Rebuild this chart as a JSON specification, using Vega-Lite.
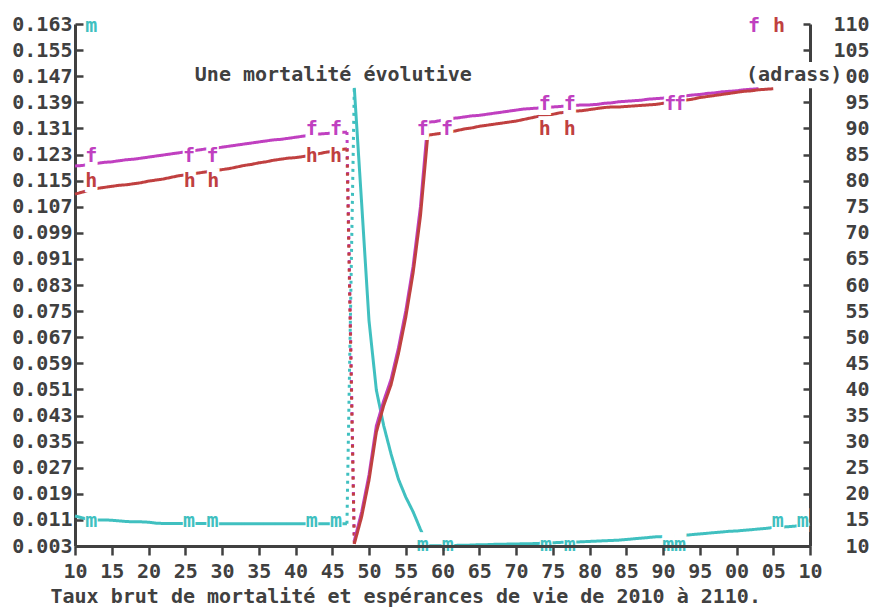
{
  "$schema": "https://vega.github.io/schema/vega-lite/v6.json",
  "width": 735,
  "height": 522,
  "autosize": {"type": "none"},
  "padding": {"left": 75, "top": 24, "right": 65, "bottom": 64},
  "background": "white",
  "config": {
    "view": {"stroke": null},
    "axis": {
      "grid": false,
      "domainColor": "#404040",
      "domainWidth": 3,
      "tickColor": "#404040",
      "tickWidth": 2.5,
      "labelColor": "#404040",
      "labelFont": "DejaVu Sans Mono",
      "labelFontSize": 20,
      "labelFontWeight": "bold",
      "labelOverlap": false,
      "labelFlush": false,
      "titleColor": "#404040",
      "titleFont": "DejaVu Sans Mono",
      "titleFontSize": 20,
      "titleFontWeight": "bold"
    },
    "text": {"font": "DejaVu Sans Mono", "fontSize": 20, "fontWeight": "bold"}
  },
  "datasets": {
    "serie": [
      {"annee": 2010, "periode": "avant", "m": 0.0122, "f": 82.8, "h": 77.4},
      {"annee": 2011, "periode": "avant", "m": 0.0116, "f": 82.9, "h": 77.8},
      {"annee": 2012, "periode": "avant", "m": 0.0111, "f": 83.1, "h": 78.2},
      {"annee": 2013, "periode": "avant", "m": 0.0110, "f": 83.3, "h": 78.5},
      {"annee": 2014, "periode": "avant", "m": 0.0110, "f": 83.5, "h": 78.7},
      {"annee": 2015, "periode": "avant", "m": 0.0109, "f": 83.6, "h": 78.9},
      {"annee": 2016, "periode": "avant", "m": 0.0107, "f": 83.8, "h": 79.1},
      {"annee": 2017, "periode": "avant", "m": 0.0105, "f": 84.0, "h": 79.2},
      {"annee": 2018, "periode": "avant", "m": 0.0104, "f": 84.1, "h": 79.4},
      {"annee": 2019, "periode": "avant", "m": 0.0104, "f": 84.3, "h": 79.6},
      {"annee": 2020, "periode": "avant", "m": 0.0103, "f": 84.5, "h": 79.9},
      {"annee": 2021, "periode": "avant", "m": 0.0100, "f": 84.7, "h": 80.1},
      {"annee": 2022, "periode": "avant", "m": 0.0099, "f": 84.9, "h": 80.3},
      {"annee": 2023, "periode": "avant", "m": 0.0099, "f": 85.1, "h": 80.6},
      {"annee": 2024, "periode": "avant", "m": 0.0099, "f": 85.3, "h": 80.9},
      {"annee": 2025, "periode": "avant", "m": 0.0099, "f": 85.5, "h": 81.1},
      {"annee": 2026, "periode": "avant", "m": 0.0099, "f": 85.7, "h": 81.3},
      {"annee": 2027, "periode": "avant", "m": 0.0099, "f": 85.9, "h": 81.5},
      {"annee": 2028, "periode": "avant", "m": 0.0099, "f": 86.1, "h": 81.7},
      {"annee": 2029, "periode": "avant", "m": 0.0099, "f": 86.2, "h": 81.9},
      {"annee": 2030, "periode": "avant", "m": 0.0098, "f": 86.4, "h": 82.1},
      {"annee": 2031, "periode": "avant", "m": 0.0098, "f": 86.6, "h": 82.3},
      {"annee": 2032, "periode": "avant", "m": 0.0098, "f": 86.8, "h": 82.6},
      {"annee": 2033, "periode": "avant", "m": 0.0098, "f": 87.0, "h": 82.9},
      {"annee": 2034, "periode": "avant", "m": 0.0098, "f": 87.2, "h": 83.1},
      {"annee": 2035, "periode": "avant", "m": 0.0098, "f": 87.4, "h": 83.4},
      {"annee": 2036, "periode": "avant", "m": 0.0098, "f": 87.6, "h": 83.6},
      {"annee": 2037, "periode": "avant", "m": 0.0098, "f": 87.8, "h": 83.9},
      {"annee": 2038, "periode": "avant", "m": 0.0098, "f": 87.9, "h": 84.1},
      {"annee": 2039, "periode": "avant", "m": 0.0098, "f": 88.1, "h": 84.3},
      {"annee": 2040, "periode": "avant", "m": 0.0098, "f": 88.3, "h": 84.4},
      {"annee": 2041, "periode": "avant", "m": 0.0098, "f": 88.5, "h": 84.6},
      {"annee": 2042, "periode": "avant", "m": 0.0098, "f": 88.7, "h": 84.8},
      {"annee": 2043, "periode": "avant", "m": 0.0098, "f": 88.9, "h": 85.1},
      {"annee": 2044, "periode": "avant", "m": 0.0098, "f": 89.0, "h": 85.4},
      {"annee": 2045, "periode": "avant", "m": 0.0098, "f": 89.1, "h": 85.6},
      {"annee": 2046, "periode": "avant", "m": 0.0098, "f": 89.2, "h": 85.9},
      {"annee": 2047, "periode": "avant", "m": 0.0098, "f": 89.3, "h": 86.1},
      {"annee": 2047, "periode": "saut", "m": 0.0098, "f": 89.3, "h": 86.1},
      {"annee": 2048, "periode": "saut", "m": 0.1434, "f": 11.0, "h": 10.4},
      {"annee": 2048, "periode": "après", "m": 0.1434, "f": 11.0, "h": 10.4},
      {"annee": 2049, "periode": "après", "m": 0.1080, "f": 16.5, "h": 15.6},
      {"annee": 2050, "periode": "après", "m": 0.0721, "f": 23.6, "h": 22.6},
      {"annee": 2051, "periode": "après", "m": 0.0508, "f": 33.0, "h": 31.8},
      {"annee": 2052, "periode": "après", "m": 0.0399, "f": 37.8, "h": 36.9},
      {"annee": 2053, "periode": "après", "m": 0.0312, "f": 41.9, "h": 40.9},
      {"annee": 2054, "periode": "après", "m": 0.0235, "f": 47.9, "h": 46.8},
      {"annee": 2055, "periode": "après", "m": 0.0180, "f": 55.0, "h": 53.8},
      {"annee": 2056, "periode": "après", "m": 0.0135, "f": 63.6, "h": 62.3},
      {"annee": 2057, "periode": "après", "m": 0.0081, "f": 75.0, "h": 73.2},
      {"annee": 2058, "periode": "après", "m": 0.0031, "f": 91.2, "h": 88.7},
      {"annee": 2059, "periode": "après", "m": 0.0031, "f": 91.3, "h": 88.9},
      {"annee": 2060, "periode": "après", "m": 0.0031, "f": 91.6, "h": 89.1},
      {"annee": 2061, "periode": "après", "m": 0.0031, "f": 91.9, "h": 89.3},
      {"annee": 2062, "periode": "après", "m": 0.0032, "f": 92.0, "h": 89.6},
      {"annee": 2063, "periode": "après", "m": 0.0032, "f": 92.2, "h": 89.9},
      {"annee": 2064, "periode": "après", "m": 0.0033, "f": 92.4, "h": 90.1},
      {"annee": 2065, "periode": "après", "m": 0.0034, "f": 92.5, "h": 90.4},
      {"annee": 2066, "periode": "après", "m": 0.0034, "f": 92.7, "h": 90.6},
      {"annee": 2067, "periode": "après", "m": 0.0035, "f": 92.9, "h": 90.8},
      {"annee": 2068, "periode": "après", "m": 0.0035, "f": 93.1, "h": 91.0},
      {"annee": 2069, "periode": "après", "m": 0.0036, "f": 93.3, "h": 91.2},
      {"annee": 2070, "periode": "après", "m": 0.0036, "f": 93.5, "h": 91.4},
      {"annee": 2071, "periode": "après", "m": 0.0037, "f": 93.7, "h": 91.7},
      {"annee": 2072, "periode": "après", "m": 0.0037, "f": 93.8, "h": 92.0},
      {"annee": 2073, "periode": "après", "m": 0.0038, "f": 93.9, "h": 92.3},
      {"annee": 2074, "periode": "après", "m": 0.0039, "f": 94.0, "h": 92.5},
      {"annee": 2075, "periode": "après", "m": 0.0040, "f": 94.1, "h": 92.7},
      {"annee": 2076, "periode": "après", "m": 0.0041, "f": 94.2, "h": 93.0},
      {"annee": 2077, "periode": "après", "m": 0.0042, "f": 94.3, "h": 93.1},
      {"annee": 2078, "periode": "après", "m": 0.0042, "f": 94.4, "h": 93.3},
      {"annee": 2079, "periode": "après", "m": 0.0043, "f": 94.5, "h": 93.4},
      {"annee": 2080, "periode": "après", "m": 0.0044, "f": 94.5, "h": 93.6},
      {"annee": 2081, "periode": "après", "m": 0.0045, "f": 94.6, "h": 93.8},
      {"annee": 2082, "periode": "après", "m": 0.0046, "f": 94.8, "h": 94.0},
      {"annee": 2083, "periode": "après", "m": 0.0047, "f": 94.9, "h": 94.1},
      {"annee": 2084, "periode": "après", "m": 0.0048, "f": 95.1, "h": 94.1},
      {"annee": 2085, "periode": "après", "m": 0.0050, "f": 95.2, "h": 94.2},
      {"annee": 2086, "periode": "après", "m": 0.0052, "f": 95.3, "h": 94.3},
      {"annee": 2087, "periode": "après", "m": 0.0054, "f": 95.4, "h": 94.4},
      {"annee": 2088, "periode": "après", "m": 0.0056, "f": 95.6, "h": 94.5},
      {"annee": 2089, "periode": "après", "m": 0.0058, "f": 95.7, "h": 94.6},
      {"annee": 2090, "periode": "après", "m": 0.0059, "f": 95.8, "h": 94.8},
      {"annee": 2091, "periode": "après", "m": 0.0060, "f": 96.0, "h": 95.0},
      {"annee": 2092, "periode": "après", "m": 0.0062, "f": 96.1, "h": 95.2},
      {"annee": 2093, "periode": "après", "m": 0.0063, "f": 96.2, "h": 95.4},
      {"annee": 2094, "periode": "après", "m": 0.0065, "f": 96.4, "h": 95.6},
      {"annee": 2095, "periode": "après", "m": 0.0067, "f": 96.5, "h": 95.9},
      {"annee": 2096, "periode": "après", "m": 0.0069, "f": 96.7, "h": 96.1},
      {"annee": 2097, "periode": "après", "m": 0.0071, "f": 96.8, "h": 96.3},
      {"annee": 2098, "periode": "après", "m": 0.0073, "f": 97.0, "h": 96.5},
      {"annee": 2099, "periode": "après", "m": 0.0075, "f": 97.1, "h": 96.7},
      {"annee": 2100, "periode": "après", "m": 0.0076, "f": 97.2, "h": 96.9},
      {"annee": 2101, "periode": "après", "m": 0.0078, "f": 97.4, "h": 97.1},
      {"annee": 2102, "periode": "après", "m": 0.0080, "f": 97.5, "h": 97.2},
      {"annee": 2103, "periode": "après", "m": 0.0082, "f": 97.6, "h": 97.4},
      {"annee": 2104, "periode": "après", "m": 0.0084, "h": 97.5},
      {"annee": 2105, "periode": "après", "m": 0.0087, "h": 97.6},
      {"annee": 2106, "periode": "après", "m": 0.0088},
      {"annee": 2107, "periode": "après", "m": 0.0089},
      {"annee": 2108, "periode": "après", "m": 0.0091},
      {"annee": 2109, "periode": "après", "m": 0.0094},
      {"annee": 2110, "periode": "après", "m": 0.0097}
    ],
    "marqueurs_m": [
      {"serie": "m", "annee": 2012.2, "valeur": 0.0088},
      {"serie": "m", "annee": 2025.5, "valeur": 0.0088},
      {"serie": "m", "annee": 2028.7, "valeur": 0.0088},
      {"serie": "m", "annee": 2042.2, "valeur": 0.0088},
      {"serie": "m", "annee": 2045.5, "valeur": 0.0088},
      {"serie": "m", "annee": 2057.3, "valeur": 0.0015},
      {"serie": "m", "annee": 2060.7, "valeur": 0.0015},
      {"serie": "m", "annee": 2074.1, "valeur": 0.0015},
      {"serie": "m", "annee": 2077.3, "valeur": 0.0015},
      {"serie": "m", "annee": 2090.7, "valeur": 0.0015},
      {"serie": "m", "annee": 2092.3, "valeur": 0.0015},
      {"serie": "m", "annee": 2105.6, "valeur": 0.0088},
      {"serie": "m", "annee": 2109.0, "valeur": 0.0088}
    ],
    "marqueurs_fh": [
      {"serie": "f", "annee": 2012.2, "valeur": 83.6},
      {"serie": "f", "annee": 2025.5, "valeur": 83.6},
      {"serie": "f", "annee": 2028.7, "valeur": 83.6},
      {"serie": "f", "annee": 2042.2, "valeur": 88.7},
      {"serie": "f", "annee": 2045.5, "valeur": 88.7},
      {"serie": "f", "annee": 2057.3, "valeur": 88.7},
      {"serie": "f", "annee": 2060.6, "valeur": 88.7},
      {"serie": "f", "annee": 2073.9, "valeur": 93.5},
      {"serie": "f", "annee": 2077.3, "valeur": 93.5},
      {"serie": "f", "annee": 2091.0, "valeur": 93.5},
      {"serie": "f", "annee": 2092.3, "valeur": 93.5},
      {"serie": "h", "annee": 2012.2, "valeur": 78.8},
      {"serie": "h", "annee": 2025.6, "valeur": 78.8},
      {"serie": "h", "annee": 2028.8, "valeur": 78.8},
      {"serie": "h", "annee": 2042.2, "valeur": 83.6},
      {"serie": "h", "annee": 2045.5, "valeur": 83.6},
      {"serie": "h", "annee": 2073.9, "valeur": 88.7},
      {"serie": "h", "annee": 2077.3, "valeur": 88.7}
    ]
  },
  "layer": [
    {
      "encoding": {
        "x": {
          "field": "annee", "type": "quantitative",
          "scale": {"domain": [2010, 2110], "nice": false, "zero": false},
          "axis": {
            "orient": "bottom",
            "values": [2010, 2015, 2020, 2025, 2030, 2035, 2040, 2045, 2050, 2055, 2060, 2065, 2070, 2075, 2080, 2085, 2090, 2095, 2100, 2105, 2110],
            "labelExpr": "substring(toString(datum.value), 2)",
            "labelOverlap": false,
            "tickSize": 9,
            "labelPadding": 6,
            "zindex": 1,
            "title": "Taux brut de mortalité et espérances de vie de 2010 à 2110.",
            "titleAnchor": "start",
            "titleAlign": "left",
            "titleBaseline": "top",
            "titleX": -25,
            "titleY": 40
          }
        },
        "y": {
          "field": "m", "type": "quantitative",
          "scale": {"domain": [0.003, 0.163], "nice": false, "zero": false},
          "axis": {
            "orient": "left",
            "values": [0.003, 0.011, 0.019, 0.027, 0.035, 0.043, 0.051, 0.059, 0.067, 0.075, 0.083, 0.091, 0.099, 0.107, 0.115, 0.123, 0.131, 0.139, 0.147, 0.155, 0.163],
            "format": ".3f",
            "labelOverlap": false,
            "tickSize": -8,
            "labelPadding": 11,
            "title": null
          }
        }
      },
      "layer": [
        {
          "data": {"name": "serie"},
          "mark": {"type": "line", "color": "#40C0C0", "strokeWidth": 3},
          "encoding": {
            "strokeDash": {
              "field": "periode", "type": "nominal",
              "scale": {"domain": ["avant", "saut", "après"], "range": [[1, 0], [3, 5], [1, 0]]},
              "legend": null
            }
          }
        },
        {
          "data": {"name": "marqueurs_m"},
          "mark": {"type": "text", "text": "█", "color": "white", "baseline": "alphabetic"},
          "encoding": {
            "y": {"field": "valeur", "type": "quantitative"}
          }
        },
        {
          "data": {"name": "marqueurs_m"},
          "mark": {"type": "text", "color": "#40C0C0", "baseline": "alphabetic"},
          "encoding": {
            "y": {"field": "valeur", "type": "quantitative"},
            "text": {"field": "serie"}
          }
        },
        {
          "data": {"values": [{"annee": 2012.2, "m": 0.1605}]},
          "mark": {"type": "text", "text": "m", "color": "#40C0C0", "baseline": "alphabetic"}
        },
        {
          "data": {"values": [{"annee": 2026.3, "m": 0.1455}]},
          "mark": {"type": "text", "text": "Une mortalité évolutive", "color": "#404040", "align": "left", "baseline": "alphabetic"}
        }
      ]
    },
    {
      "encoding": {
        "x": {
          "field": "annee", "type": "quantitative",
          "scale": {"domain": [2010, 2110], "nice": false, "zero": false},
          "axis": {
            "orient": "bottom",
            "values": [2010, 2015, 2020, 2025, 2030, 2035, 2040, 2045, 2050, 2055, 2060, 2065, 2070, 2075, 2080, 2085, 2090, 2095, 2100, 2105, 2110],
            "labelExpr": "substring(toString(datum.value), 2)",
            "labelOverlap": false,
            "tickSize": 9,
            "labelPadding": 6,
            "zindex": 1,
            "title": "Taux brut de mortalité et espérances de vie de 2010 à 2110.",
            "titleAnchor": "start",
            "titleAlign": "left",
            "titleBaseline": "top",
            "titleX": -25,
            "titleY": 40
          }
        },
        "y": {
          "field": "esperance", "type": "quantitative",
          "scale": {"domain": [10, 110], "nice": false, "zero": false},
          "axis": {
            "orient": "right",
            "values": [10, 15, 20, 25, 30, 35, 40, 45, 50, 55, 60, 65, 70, 75, 80, 85, 90, 95, 100, 105, 110],
            "labelOverlap": false,
            "tickSize": -7,
            "labelAlign": "right",
            "labelPadding": 66,
            "title": null
          }
        }
      },
      "layer": [
        {
          "data": {"values": [{"annee": 2101.3, "annee_fin": 2114.9, "esperance": 102.7, "esperance_bas": 97.7}]},
          "mark": {"type": "rect", "color": "white"},
          "encoding": {
            "x2": {"field": "annee_fin"},
            "y2": {"field": "esperance_bas"}
          }
        },
        {
          "data": {"name": "serie"},
          "transform": [
            {"fold": ["f", "h"], "as": ["sexe", "esperance"]},
            {"filter": "isValid(datum.esperance)"}
          ],
          "mark": {"type": "line", "strokeWidth": 3},
          "encoding": {
            "color": {
              "field": "sexe", "type": "nominal",
              "scale": {"domain": ["f", "h"], "range": ["#C040C0", "#C04040"]},
              "legend": null
            },
            "strokeDash": {
              "field": "periode", "type": "nominal",
              "scale": {"domain": ["avant", "saut", "après"], "range": [[1, 0], [3, 5], [1, 0]]},
              "legend": null
            }
          }
        },
        {
          "data": {"name": "marqueurs_fh"},
          "mark": {"type": "text", "text": "█", "color": "white", "baseline": "alphabetic"},
          "encoding": {
            "y": {"field": "valeur", "type": "quantitative"}
          }
        },
        {
          "data": {"name": "marqueurs_fh"},
          "mark": {"type": "text", "baseline": "alphabetic"},
          "encoding": {
            "y": {"field": "valeur", "type": "quantitative"},
            "text": {"field": "serie"},
            "color": {"field": "serie", "type": "nominal", "scale": {"domain": ["f", "h"], "range": ["#C040C0", "#C04040"]}, "legend": null}
          }
        },
        {
          "data": {"values": [{"sexe": "f", "annee": 2102.4, "esperance": 108.5}, {"sexe": "h", "annee": 2105.8, "esperance": 108.5}]},
          "mark": {"type": "text", "baseline": "alphabetic"},
          "encoding": {
            "text": {"field": "sexe"},
            "color": {"field": "sexe", "type": "nominal", "scale": {"domain": ["f", "h"], "range": ["#C040C0", "#C04040"]}, "legend": null}
          }
        },
        {
          "data": {"values": [{"annee": 2101.3, "esperance": 99.1}]},
          "mark": {"type": "text", "text": "(adrass)", "color": "#404040", "align": "left", "baseline": "alphabetic"}
        }
      ]
    }
  ],
  "resolve": {"scale": {"y": "independent"}}
}
